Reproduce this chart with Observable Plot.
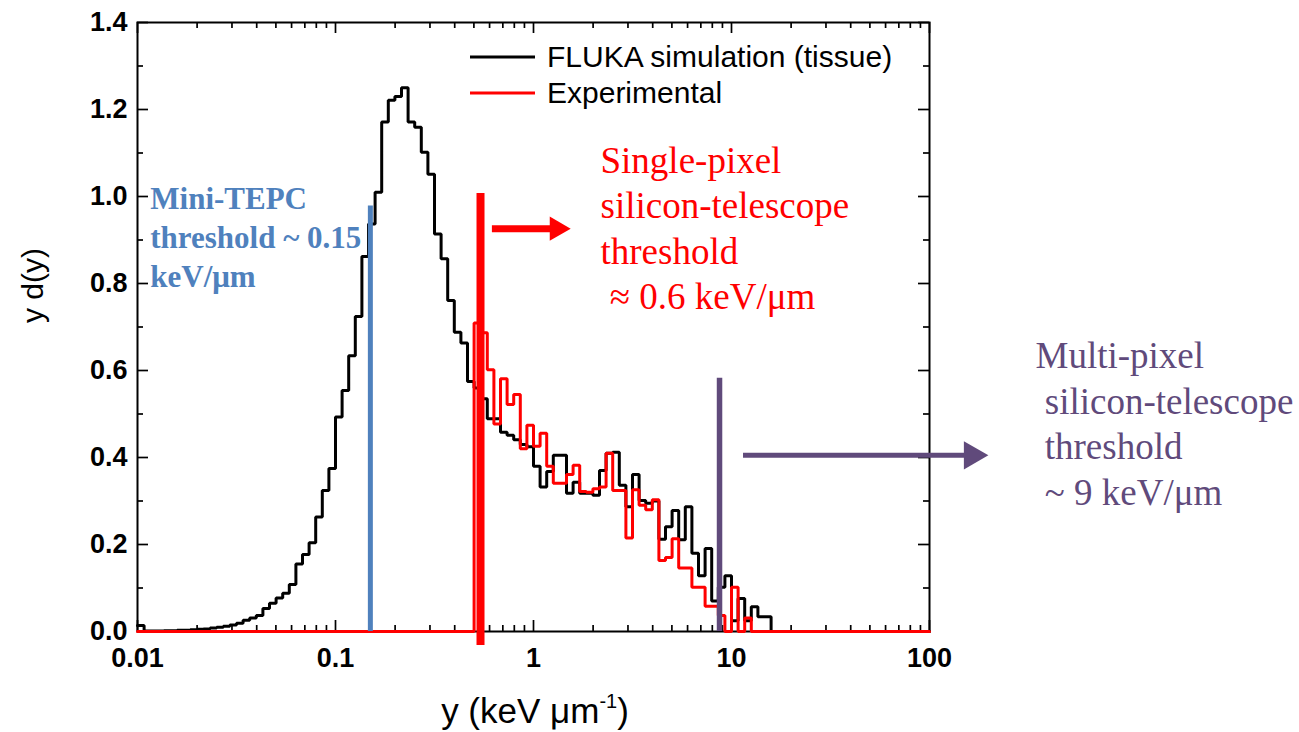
<!DOCTYPE html>
<html>
<head>
<meta charset="utf-8">
<script src="https://cdn.jsdelivr.net/npm/d3@7"></script>
<script src="https://cdn.jsdelivr.net/npm/@observablehq/plot@0.6"></script>
<style>
  html, body { margin: 0; padding: 0; background: #fff; }
  #wrap { position: relative; width: 1299px; height: 732px; overflow: hidden; background: #fff; }
  #legend { position: absolute; left: 470px; top: 39px; font-family: "Liberation Sans", Arial, sans-serif; font-size: 30px; color: #000; }
  #legend .row { display: flex; align-items: center; height: 36px; white-space: nowrap; }
  #legend svg { margin-right: 11px; }
  #xtitle { position: absolute; left: 0; width: 1070px; top: 680px; text-align: center; font-family: "Liberation Sans", Arial, sans-serif; font-size: 35px; line-height: 42px; color: #000; }
  #xtitle .sup { font-size: 20px; vertical-align: 15px; }
</style>
</head>
<body>
<div id="wrap"></div>
<script>
// ---------------- data ----------------
const binsPerDecade = 30;          // log-spaced histogram bins
const firstBinEdge = 0.01;         // keV/um

// FLUKA simulation (tissue), y d(y) per bin
const flukaValues = [
  0.014, 0.001, 0.001, 0.001, 0.002, 0.002, 0.003, 0.003, 0.004, 0.005,
  0.006, 0.008, 0.010, 0.012, 0.015, 0.019, 0.026, 0.031, 0.037, 0.053,
  0.065, 0.077, 0.088, 0.108, 0.155, 0.177, 0.204, 0.263, 0.324, 0.375,
  0.493, 0.554, 0.634, 0.724, 0.862, 0.937, 1.010, 1.171, 1.221, 1.230,
  1.250, 1.171, 1.159, 1.102, 1.051, 0.914, 0.857, 0.761, 0.688, 0.663,
  0.575, 0.560, 0.535, 0.489, 0.489, 0.458, 0.451, 0.441, 0.430, 0.425,
  0.380, 0.332, 0.368, 0.405, 0.405, 0.318, 0.343, 0.318, 0.318, 0.313,
  0.370, 0.410, 0.412, 0.336, 0.287, 0.361, 0.301, 0.295, 0.300, 0.212,
  0.241, 0.278, 0.211, 0.287, 0.180, 0.128, 0.191, 0.070, 0.102, 0.128,
  0.025, 0.076, 0.025, 0.057, 0.034, 0.034, 0, 0, 0, 0,
  0, 0, 0, 0, 0, 0, 0, 0, 0, 0,
  0, 0, 0, 0, 0, 0, 0, 0, 0, 0
];

// Experimental, y d(y) per bin
const expValues = [
  0, 0, 0, 0, 0, 0, 0, 0, 0, 0,
  0, 0, 0, 0, 0, 0, 0, 0, 0, 0,
  0, 0, 0, 0, 0, 0, 0, 0, 0, 0,
  0, 0, 0, 0, 0, 0, 0, 0, 0, 0,
  0, 0, 0, 0, 0, 0, 0, 0, 0, 0,
  0, 0.709, 0.687, 0.602, 0.477, 0.581, 0.522, 0.545, 0.420, 0.474,
  0.426, 0.456, 0.380, 0.341, 0.341, 0.361, 0.382, 0.322, 0.320, 0.328,
  0.332, 0.410, 0.324, 0.324, 0.215, 0.326, 0.290, 0.280, 0.303, 0.163,
  0.170, 0.213, 0.146, 0.146, 0.102, 0.102, 0.058, 0.058, 0.037, 0,
  0.102, 0, 0.031, 0, 0, 0, 0, 0, 0, 0,
  0, 0, 0, 0, 0, 0, 0, 0, 0, 0,
  0, 0, 0, 0, 0, 0, 0, 0, 0, 0
];

const seriesNames = ["FLUKA simulation (tissue)", "Experimental"];
const seriesColors = ["#000000", "#ff0000"];

// axes
const xMajorTicks = [0.01, 0.1, 1, 10, 100];
const xTickLabels = ["0.01", "0.1", "1", "10", "100"];
const xMinorTicks = [0.02, 0.03, 0.04, 0.05, 0.06, 0.07, 0.08, 0.09,
                     0.2, 0.3, 0.4, 0.5, 0.6, 0.7, 0.8, 0.9,
                     2, 3, 4, 5, 6, 7, 8, 9,
                     20, 30, 40, 50, 60, 70, 80, 90];
const yMajorTicks = [0, 0.2, 0.4, 0.6, 0.8, 1.0, 1.2, 1.4];
const yTickLabels = ["0.0", "0.2", "0.4", "0.6", "0.8", "1.0", "1.2", "1.4"];
const yMinorTicks = [0.1, 0.3, 0.5, 0.7, 0.9, 1.1, 1.3];
const yTitle = "y d(y)";

// threshold annotations
const thresholdX = [0.15, 0.54, 8.7];
const thresholdTop = [0.978, 1.007, 0.582];
const thresholdBottom = [0, -0.032, 0];
const thresholdColors = ["#4F81BD", "#FF0000", "#604A7B"];
const thresholdWidths = [5, 8, 5.5];

// arrows (y level, shaft start, head centre)
const arrowY = [0.926, 0.405];
const arrowStartX = [0.62, 11.5];
const arrowHeadX = [1.31, 164];
const arrowColors = ["#FF0000", "#604A7B"];
const arrowWidths = [7, 5];
const arrowHeadR = [9, 10.5];

// text notes
const noteLines = [
  ["Mini-TEPC", "threshold ~ 0.15", "keV/μm"],
  ["Single-pixel", "silicon-telescope", "threshold", "\u00a0≈ 0.6 keV/μm"],
  ["Multi-pixel", "\u00a0silicon-telescope", "\u00a0threshold", "\u00a0~ 9 keV/μm"]
];
const noteX = [0.0116, 2.18, 343];
const noteTop = [1.035, 1.129, 0.680];
const noteColors = ["#4F81BD", "#FF0000", "#604A7B"];
const noteFonts = ["Liberation Serif", "Liberation Serif", "Liberation Serif"];
const noteSizes = [31, 37, 37];
const noteWeights = ["bold", "normal", "normal"];
const noteLineHeights = [1.26, 1.23, 1.23];

// ---------------- build ----------------
function toSteps(values) {
  const pts = values.map((v, i) => ({x: firstBinEdge * 10 ** (i / binsPerDecade), y: v}));
  pts.push({x: firstBinEdge * 10 ** (values.length / binsPerDecade), y: values[values.length - 1]});
  return pts;
}
const flukaSteps = toSteps(flukaValues);
const expSteps = toSteps(expValues);

const W = 1299, H = 732;
const mL = 137, mR = 370, mT = 22, mB = 101;
const plotW = W - mL - mR, plotH = H - mT - mB;
const majorLen = 11, minorLen = 6;

const thresholds = thresholdX.map((x, i) => ({x, y1: thresholdBottom[i], y2: thresholdTop[i], color: thresholdColors[i], w: thresholdWidths[i]}));
const arrows = arrowY.map((y, i) => ({y, x1: arrowStartX[i], x2: arrowHeadX[i], color: arrowColors[i], w: arrowWidths[i], r: arrowHeadR[i]}));
const notes = noteLines.map((lines, i) => ({text: lines.join("\n"), x: noteX[i], y: noteTop[i], i}));

const tickStyle = {stroke: "#000", strokeWidth: 1.7};

const marks = [
  Plot.frame({stroke: "#000", strokeWidth: 2}),
  // x ticks (inward, bottom and top)
  Plot.ruleX(xMajorTicks, {x: d => d, insetTop: plotH - majorLen, ...tickStyle}),
  Plot.ruleX(xMajorTicks, {x: d => d, insetBottom: plotH - majorLen, ...tickStyle}),
  Plot.ruleX(xMinorTicks, {x: d => d, insetTop: plotH - minorLen, ...tickStyle}),
  Plot.ruleX(xMinorTicks, {x: d => d, insetBottom: plotH - minorLen, ...tickStyle}),
  // y ticks (inward, left and right)
  Plot.ruleY(yMajorTicks, {y: d => d, insetRight: plotW - majorLen, ...tickStyle}),
  Plot.ruleY(yMajorTicks, {y: d => d, insetLeft: plotW - majorLen, ...tickStyle}),
  Plot.ruleY(yMinorTicks, {y: d => d, insetRight: plotW - minorLen, ...tickStyle}),
  Plot.ruleY(yMinorTicks, {y: d => d, insetLeft: plotW - minorLen, ...tickStyle}),
  // tick labels
  Plot.text(xMajorTicks, {x: d => d, text: (d, i) => xTickLabels[i], frameAnchor: "bottom", dy: 16, lineAnchor: "top",
    fontSize: 27, fontWeight: "bold", fill: "#000"}),
  Plot.text(yMajorTicks, {y: d => d, text: (d, i) => yTickLabels[i], frameAnchor: "left", dx: -10, textAnchor: "end",
    fontSize: 27, fontWeight: "bold", fill: "#000"}),
  // y title
  Plot.text([yTitle], {text: d => d, frameAnchor: "left", dx: -104, dy: -4, rotate: -90, fontSize: 30, fill: "#000"}),
  // histograms
  Plot.line(flukaSteps, {x: "x", y: "y", curve: "step-after", stroke: seriesColors[0], strokeWidth: 3, strokeLinejoin: "miter"}),
  Plot.line(expSteps, {x: "x", y: "y", curve: "step-after", stroke: seriesColors[1], strokeWidth: 3, strokeLinejoin: "miter"}),
  // threshold lines
  ...thresholds.map(t => Plot.ruleX([t], {x: "x", y1: "y1", y2: "y2", stroke: t.color, strokeWidth: t.w})),
  // arrows
  ...arrows.map(a => Plot.ruleY([a], {y: "y", x1: "x1", x2: "x2", stroke: a.color, strokeWidth: a.w})),
  ...arrows.map(a => Plot.dot([a], {x: "x2", y: "y", symbol: "triangle", r: a.r, fill: a.color, stroke: "none", rotate: 90})),
  // notes
  ...notes.map(n => Plot.text([n], {x: "x", y: "y", text: "text", textAnchor: "start", lineAnchor: "top",
    lineHeight: noteLineHeights[n.i], fontSize: noteSizes[n.i], fontFamily: noteFonts[n.i],
    fontWeight: noteWeights[n.i], fill: noteColors[n.i]}))
];

const chart = Plot.plot({
  width: W, height: H,
  marginLeft: mL, marginRight: mR, marginTop: mT, marginBottom: mB,
  x: {type: "log", domain: [0.01, 100], axis: null},
  y: {domain: [0, 1.4], axis: null},
  style: {fontFamily: "'Liberation Sans', Arial, sans-serif", background: "#fff", overflow: "visible"},
  marks
});

const wrap = document.getElementById("wrap");
wrap.appendChild(chart);

// legend
const legend = document.createElement("div");
legend.id = "legend";
seriesNames.forEach((name, i) => {
  const row = document.createElement("div");
  row.className = "row";
  row.innerHTML = `<svg width="66" height="34"><line x1="0" x2="65" y1="17" y2="17" stroke="${seriesColors[i]}" stroke-width="3"/></svg><span>${name}</span>`;
  legend.appendChild(row);
});
wrap.appendChild(legend);

// x title with superscript
const xt = document.createElement("div");
xt.id = "xtitle";
xt.innerHTML = 'y (keV μm<span class="sup">-1</span>)';
wrap.appendChild(xt);
</script>
</body>
</html>
